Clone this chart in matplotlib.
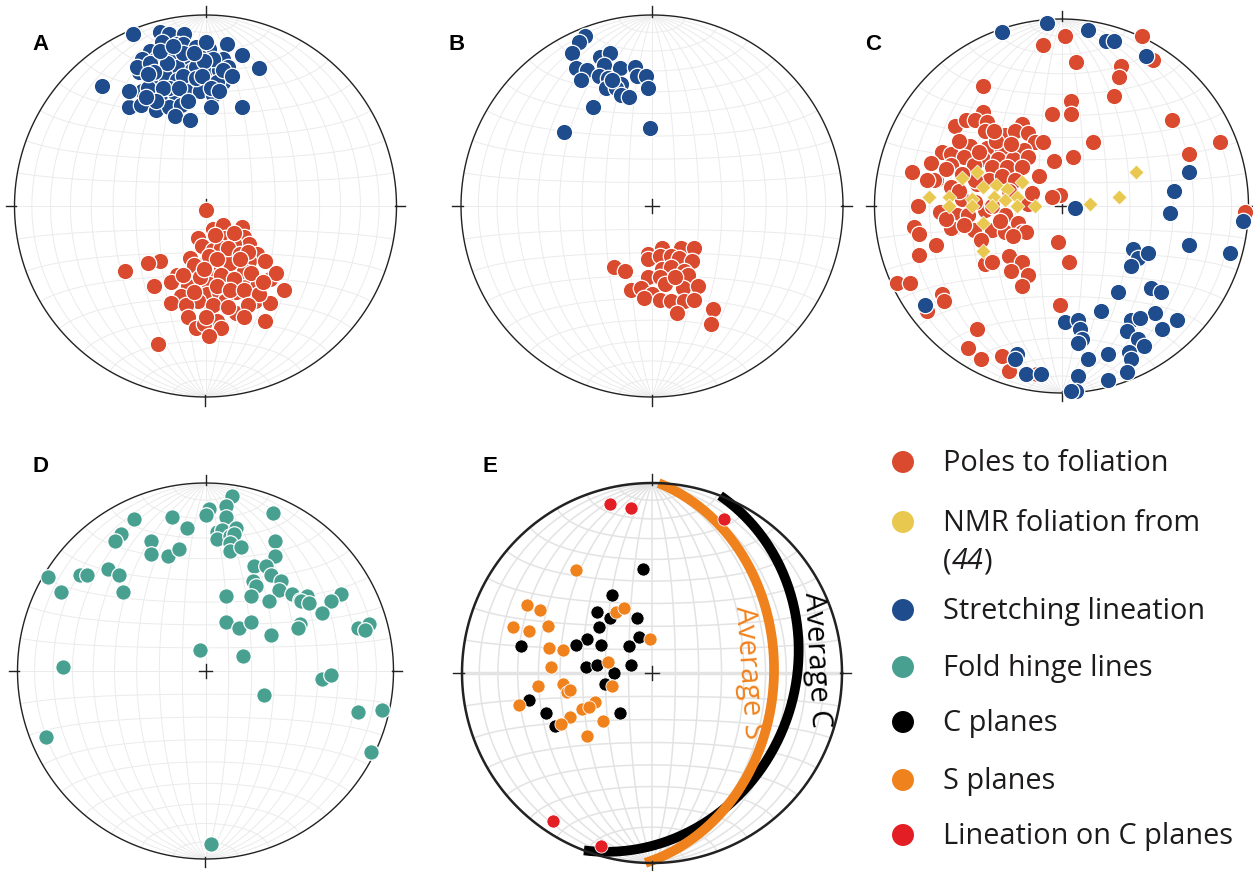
import numpy as np
import matplotlib
matplotlib.use("Agg")
import matplotlib.pyplot as plt
from matplotlib import font_manager

plt.rcParams['font.family'] = ['Open Sans', 'DejaVu Sans']

# pick an installed italic face for the "(44)" reference
italic_fam = 'DejaVu Sans'
have = {(f.name, f.style) for f in font_manager.fontManager.ttflist}
for fam in ['Open Sans', 'Lato', 'Noto Sans', 'Roboto', 'Liberation Sans', 'DejaVu Sans']:
    if (fam, 'italic') in have or (fam, 'oblique') in have:
        italic_fam = fam
        break

W, H = 1253, 871

# colours of the data sets
c_pole = '#d94a2f'
c_nmr = '#e9c850'
c_lin = '#1f4c8c'
c_fold = '#48a091'
c_cpl = '#000000'
c_spl = '#f0821e'
c_linc = '#e31e24'

# ---- data, projected net coordinates (east, north), unit = net radius ----
a_lin = np.array([
    [-0.38, 0.90], [-0.24, 0.91], [-0.19, 0.90], [-0.11, 0.90], [-0.23, 0.86], [-0.15, 0.85],
    [-0.12, 0.85], [0.11, 0.85], [-0.05, 0.83], [0.02, 0.82], [0.19, 0.79], [-0.29, 0.81],
    [-0.33, 0.77], [-0.26, 0.77], [-0.18, 0.79], [-0.10, 0.76], [-0.03, 0.78], [0.09, 0.77],
    [0.12, 0.73], [0.28, 0.72], [-0.35, 0.70], [-0.23, 0.72], [-0.15, 0.73], [-0.07, 0.71],
    [0.00, 0.71], [0.07, 0.71], [0.09, 0.65], [-0.54, 0.63], [-0.28, 0.65], [-0.21, 0.68],
    [-0.15, 0.66], [-0.08, 0.64], [0.00, 0.65], [0.06, 0.65], [-0.33, 0.60], [-0.24, 0.58],
    [-0.16, 0.59], [-0.10, 0.60], [-0.03, 0.60], [0.04, 0.58], [-0.40, 0.52], [-0.34, 0.53],
    [-0.26, 0.50], [-0.19, 0.52], [-0.13, 0.53], [0.03, 0.52], [0.19, 0.52], [-0.16, 0.47],
    [-0.08, 0.45], [-0.36, 0.73], [-0.29, 0.75], [-0.20, 0.75], [-0.12, 0.80], [-0.05, 0.73],
    [0.04, 0.77], [-0.27, 0.70], [-0.19, 0.62], [-0.12, 0.68], [-0.05, 0.67], [-0.30, 0.62],
    [-0.01, 0.76], [0.09, 0.71], [-0.24, 0.81], [-0.30, 0.69], [-0.22, 0.62], [-0.14, 0.62],
    [-0.02, 0.68], [0.03, 0.62], [-0.26, 0.55], [-0.09, 0.55], [-0.06, 0.80], [0.00, 0.86],
    [-0.31, 0.57], [0.07, 0.60], [-0.17, 0.84], [0.14, 0.68], [-0.40, 0.60],
])
a_pole = np.array([
    [0.00, -0.02], [0.04, -0.12], [0.09, -0.10], [0.19, -0.11], [-0.04, -0.17], [0.10, -0.17],
    [0.20, -0.16], [-0.02, -0.21], [0.04, -0.23], [0.13, -0.25], [0.23, -0.20], [0.27, -0.25],
    [-0.08, -0.27], [-0.24, -0.29], [-0.30, -0.30], [-0.42, -0.34], [0.01, -0.29], [0.16, -0.31],
    [0.23, -0.29], [0.31, -0.29], [-0.06, -0.31], [-0.15, -0.36], [0.04, -0.35], [0.11, -0.34],
    [0.34, -0.38], [0.37, -0.35], [-0.18, -0.40], [-0.27, -0.42], [-0.05, -0.40], [0.02, -0.41],
    [0.11, -0.41], [0.21, -0.39], [0.27, -0.42], [-0.09, -0.42], [0.41, -0.44], [-0.13, -0.47],
    [0.01, -0.46], [0.07, -0.45], [0.16, -0.45], [-0.04, -0.50], [-0.18, -0.51], [-0.10, -0.52],
    [0.03, -0.55], [0.10, -0.50], [0.26, -0.50], [0.34, -0.51], [0.16, -0.56], [-0.09, -0.58],
    [0.06, -0.60], [0.31, -0.60], [-0.05, -0.64], [-0.01, -0.62], [0.08, -0.64], [0.02, -0.68],
    [-0.25, -0.72], [0.08, -0.32], [-0.03, -0.37], [0.20, -0.34], [0.13, -0.30], [0.08, -0.22],
    [0.15, -0.20], [0.05, -0.15], [0.15, -0.14], [0.12, -0.22], [0.18, -0.25], [0.02, -0.26],
    [0.22, -0.24], [0.06, -0.28], [0.18, -0.28], [0.08, -0.36], [0.15, -0.38], [0.24, -0.35],
    [-0.01, -0.33], [0.06, -0.42], [0.13, -0.44], [0.20, -0.44], [0.28, -0.46], [-0.06, -0.45],
    [0.04, -0.52], [0.12, -0.53], [0.22, -0.52], [-0.12, -0.36], [0.30, -0.40], [0.00, -0.58],
    [0.20, -0.58],
])
b_lin = np.array([
    [-0.35, 0.89], [-0.38, 0.86], [-0.42, 0.80], [-0.27, 0.78], [-0.22, 0.80], [-0.25, 0.74],
    [-0.40, 0.72], [-0.34, 0.71], [-0.17, 0.72], [-0.09, 0.73], [-0.28, 0.68], [-0.23, 0.67],
    [-0.37, 0.66], [-0.16, 0.64], [-0.08, 0.68], [-0.03, 0.68], [-0.24, 0.62], [-0.19, 0.62],
    [-0.02, 0.62], [-0.16, 0.58], [-0.12, 0.57], [-0.31, 0.52], [-0.01, 0.41], [-0.46, 0.39],
    [-0.21, 0.66],
])
b_pole = np.array([
    [-0.02, -0.25], [0.05, -0.22], [0.15, -0.22], [0.22, -0.22], [-0.02, -0.28], [0.04, -0.26],
    [0.10, -0.26], [0.14, -0.27], [0.21, -0.29], [-0.20, -0.32], [-0.14, -0.34], [0.05, -0.33],
    [0.10, -0.32], [0.17, -0.34], [-0.02, -0.37], [0.04, -0.37], [0.19, -0.36], [0.07, -0.41],
    [0.16, -0.43], [0.24, -0.42], [-0.11, -0.44], [-0.06, -0.43], [0.00, -0.46], [-0.04, -0.48],
    [0.04, -0.49], [0.10, -0.50], [0.17, -0.50], [0.22, -0.49], [0.13, -0.56], [0.32, -0.54],
    [0.31, -0.62], [0.12, -0.37],
])
c_pole_pts = np.array([
    [0.02, 0.91], [-0.10, 0.86], [0.43, 0.91], [0.49, 0.78], [0.08, 0.77], [0.32, 0.75],
    [0.31, 0.69], [-0.42, 0.64], [0.28, 0.59], [0.05, 0.56], [0.05, 0.49], [-0.05, 0.49],
    [0.59, 0.46], [0.85, 0.34], [0.17, 0.34], [0.68, 0.28], [0.06, 0.26], [-0.04, 0.24],
    [-0.80, 0.18], [-0.01, 0.06], [-0.05, 0.05], [0.98, -0.03], [-0.02, -0.19], [0.04, -0.30],
    [-0.88, -0.41], [-0.81, -0.41], [-0.64, -0.47], [-0.63, -0.51], [-0.72, -0.56], [-0.01, -0.53],
    [-0.45, -0.66], [-0.50, -0.76], [-0.43, -0.82], [-0.32, -0.80], [-0.28, -0.88], [-0.13, -0.90],
    [-0.42, 0.50], [-0.57, 0.43], [-0.51, 0.46], [-0.46, 0.46], [-0.40, 0.45], [-0.41, 0.40],
    [-0.21, 0.44], [-0.30, 0.38], [-0.25, 0.40], [-0.18, 0.39], [-0.14, 0.34], [-0.10, 0.34],
    [-0.49, 0.32], [-0.40, 0.31], [-0.32, 0.30], [-0.20, 0.30], [-0.64, 0.29], [-0.59, 0.28],
    [-0.70, 0.23], [-0.52, 0.26], [-0.42, 0.25], [-0.34, 0.25], [-0.26, 0.25], [-0.18, 0.26],
    [-0.59, 0.22], [-0.47, 0.22], [-0.37, 0.21], [-0.29, 0.21], [-0.21, 0.21], [-0.67, 0.14],
    [-0.12, 0.16], [-0.59, 0.10], [-0.45, 0.12], [-0.39, 0.14], [-0.68, 0.14], [-0.72, 0.14],
    [-0.77, 0.00], [-0.65, -0.03], [-0.56, -0.05], [-0.50, -0.05], [-0.41, -0.02], [-0.30, -0.05],
    [-0.18, 0.01], [-0.79, -0.11], [-0.76, -0.15], [-0.58, -0.12], [-0.47, -0.13], [-0.37, -0.13],
    [-0.30, -0.14], [-0.23, -0.09], [-0.21, -0.14], [-0.19, -0.14], [-0.26, -0.16], [-0.67, -0.21],
    [-0.76, -0.26], [-0.28, -0.27], [-0.21, -0.30], [-0.40, -0.30], [-0.46, 0.14], [-0.53, 0.17],
    [-0.32, 0.16], [-0.25, 0.14], [-0.53, 0.04], [-0.46, 0.02], [-0.37, 0.00], [-0.41, -0.31],
    [-0.27, -0.35], [-0.18, -0.37], [-0.21, -0.43], [-0.37, -0.30], [-0.59, -0.12],
    [-0.55, 0.35], [-0.35, 0.35], [-0.27, 0.33], [-0.62, 0.20], [-0.55, 0.08], [-0.62, -0.07],
    [-0.33, -0.08], [-0.43, -0.18], [-0.52, -0.10], [-0.28, 0.08], [-0.16, 0.07], [-0.44, 0.29],
    [-0.36, 0.40],
])
c_nmr_pts = np.array([
    [-0.71, 0.05], [-0.53, 0.15], [-0.45, 0.18], [-0.42, 0.10], [-0.35, 0.11], [-0.29, 0.09],
    [-0.21, 0.13], [-0.60, 0.05], [-0.60, 0.00], [-0.48, 0.04], [-0.48, 0.00], [-0.36, 0.05],
    [-0.30, 0.03], [-0.24, 0.05], [-0.37, 0.00], [-0.24, 0.00], [-0.14, 0.00], [-0.42, -0.09],
    [-0.42, -0.24], [0.15, 0.01], [0.31, 0.05], [0.40, 0.18],
])
c_lin_pts = np.array([
    [-0.32, 0.93], [-0.08, 0.98], [0.14, 0.94], [0.24, 0.88], [0.28, 0.88], [0.45, 0.80],
    [0.68, 0.18], [0.60, 0.08], [0.07, -0.01], [0.58, -0.04], [0.97, -0.08], [0.68, -0.21],
    [0.90, -0.25], [0.38, -0.23], [0.41, -0.28], [0.46, -0.25], [0.37, -0.32], [0.30, -0.46],
    [0.48, -0.44], [0.53, -0.46], [0.21, -0.56], [0.50, -0.57], [0.62, -0.61], [0.37, -0.61],
    [0.42, -0.60], [0.02, -0.62], [0.09, -0.61], [0.10, -0.66], [0.54, -0.66], [0.35, -0.67],
    [0.11, -0.71], [0.09, -0.73], [0.41, -0.71], [0.44, -0.75], [0.25, -0.79], [0.36, -0.78],
    [0.37, -0.82], [0.14, -0.82], [-0.24, -0.79], [-0.25, -0.82], [-0.19, -0.90], [-0.11, -0.90],
    [0.09, -0.91], [0.25, -0.93], [0.35, -0.89], [0.08, -0.99], [0.05, -0.99], [-0.73, -0.53],
])
d_fold = np.array([
    [0.14, 0.93], [0.11, 0.88], [0.02, 0.86], [0.00, 0.83], [0.36, 0.84], [-0.38, 0.81],
    [-0.18, 0.82], [-0.10, 0.76], [0.11, 0.82], [-0.45, 0.73], [-0.48, 0.69], [-0.29, 0.69],
    [-0.29, 0.62], [-0.20, 0.61], [-0.14, 0.65], [0.06, 0.74], [0.09, 0.75], [0.16, 0.76],
    [0.06, 0.70], [0.13, 0.72], [0.15, 0.73], [0.13, 0.68], [0.13, 0.64], [0.19, 0.66],
    [0.37, 0.69], [0.37, 0.61], [0.26, 0.56], [0.32, 0.56], [0.35, 0.51], [0.25, 0.48],
    [0.27, 0.45], [0.40, 0.48], [0.39, 0.43], [0.34, 0.37], [0.11, 0.40], [0.24, 0.40],
    [0.46, 0.41], [0.50, 0.38], [0.54, 0.40], [0.51, 0.37], [0.55, 0.36], [0.72, 0.41],
    [0.67, 0.37], [0.62, 0.31], [-0.84, 0.50], [-0.67, 0.51], [-0.63, 0.51], [-0.52, 0.54],
    [-0.46, 0.51], [-0.77, 0.42], [-0.44, 0.42], [0.11, 0.26], [0.18, 0.23], [0.24, 0.26],
    [0.50, 0.25], [0.49, 0.23], [0.35, 0.19], [0.81, 0.23], [0.87, 0.25], [0.85, 0.22],
    [-0.03, 0.11], [0.20, 0.08], [-0.76, 0.02], [0.62, -0.04], [0.67, -0.02], [0.31, -0.13],
    [0.81, -0.22], [0.94, -0.21], [-0.85, -0.35], [0.88, -0.43], [0.03, -0.92],
])
e_cpl = np.array([
    [-0.05, 0.55], [-0.21, 0.41], [-0.29, 0.32], [-0.22, 0.29], [-0.08, 0.29], [-0.28, 0.24],
    [-0.34, 0.18], [-0.40, 0.15], [-0.27, 0.15], [-0.07, 0.19], [-0.12, 0.14], [-0.69, 0.14],
    [-0.35, 0.03], [-0.29, 0.04], [-0.20, 0.00], [-0.11, 0.04], [-0.25, -0.06], [-0.65, -0.14],
    [-0.56, -0.21], [-0.17, -0.21], [-0.51, -0.28],
])
e_spl = np.array([
    [-0.40, 0.54], [-0.66, 0.36], [-0.59, 0.33], [-0.73, 0.24], [-0.65, 0.22], [-0.55, 0.25],
    [-0.19, 0.32], [-0.15, 0.34], [-0.01, 0.18], [-0.54, 0.13], [-0.47, 0.12], [-0.53, 0.03],
    [-0.23, 0.06], [-0.60, -0.07], [-0.47, -0.06], [-0.45, -0.10], [-0.43, -0.09], [-0.21, -0.07],
    [-0.70, -0.17], [-0.30, -0.15], [-0.37, -0.19], [-0.33, -0.18], [-0.43, -0.23], [-0.26, -0.25],
    [-0.48, -0.27], [-0.34, -0.33],
])
e_linc = np.array([[-0.22, 0.89], [-0.11, 0.87], [0.38, 0.81], [-0.52, -0.78], [-0.27, -0.91]])

# average planes in E (strike, dip, right-hand rule)
avg_s = (2, 36)
avg_c = (21, 26)

# legend: text pieces per line, (text, italic)
legend_labels = [
    [[('Poles to foliation', False)]],
    [[('NMR foliation from', False)], [('(', False), ('44', True), (')', False)]],
    [[('Stretching lineation', False)]],
    [[('Fold hinge lines', False)]],
    [[('C planes', False)]],
    [[('S planes', False)]],
    [[('Lineation on C planes', False)]],
]
legend_colors = [c_pole, c_nmr, c_lin, c_fold, c_cpl, c_spl, c_linc]


def proj_lonlat(lon, lat):
    lon, lat = np.radians(lon), np.radians(lat)
    k = np.sqrt(1.0 / (1.0 + np.cos(lat) * np.cos(lon)))
    return k * np.cos(lat) * np.sin(lon), k * np.sin(lat)


def proj_line(trend, plunge):
    r = np.sqrt(2) * np.sin(np.radians(90 - plunge) / 2)
    t = np.radians(trend)
    return r * np.sin(t), r * np.cos(t)


def plane_xy(strike, dip):
    s, d = np.radians(strike), np.radians(dip)
    u = np.array([np.sin(s), np.cos(s), 0.0])
    v = np.array([np.cos(d) * np.sin(s + np.pi / 2), np.cos(d) * np.cos(s + np.pi / 2), np.sin(d)])
    a = np.linspace(0, np.pi, 200)
    L = np.outer(np.cos(a), u) + np.outer(np.sin(a), v)
    plunge = np.degrees(np.arcsin(np.clip(L[:, 2], -1, 1)))
    trend = np.degrees(np.arctan2(L[:, 0], L[:, 1]))
    return proj_line(trend, plunge)


def net_axes(fig, cx, cy, r, grid_c='#ebebeb', grid_lw=0.7, rim_lw=1.0, eq_lw=None):
    ax = fig.add_axes([(cx - 1.1 * r) / W, 1 - (cy + 1.1 * r) / H, 2.2 * r / W, 2.2 * r / H])
    ax.set_xlim(-1.1, 1.1)
    ax.set_ylim(-1.1, 1.1)
    ax.axis('off')
    lat = np.linspace(-90, 90, 181)
    for lon in range(-80, 90, 10):
        x, y = proj_lonlat(np.full_like(lat, lon), lat)
        ax.plot(x, y, color=grid_c, lw=grid_lw, zorder=1)
    lon = np.linspace(-90, 90, 181)
    for la in range(-80, 90, 10):
        x, y = proj_lonlat(lon, np.full_like(lon, la))
        ax.plot(x, y, color=grid_c, lw=eq_lw if (la == 0 and eq_lw) else grid_lw, zorder=1)
    t = np.linspace(0, 2 * np.pi, 400)
    ax.plot(np.cos(t), np.sin(t), color='#222222', lw=rim_lw, zorder=3)
    for ang in (0, 90, 180, 270):
        a = np.radians(ang)
        ax.plot([0.99 * np.cos(a), 1.045 * np.cos(a)], [0.99 * np.sin(a), 1.045 * np.sin(a)],
                color='#222222', lw=1.0, zorder=3)
    ax.plot([-0.035, 0.035], [0, 0], color='#222222', lw=1.0, zorder=3)
    ax.plot([0, 0], [-0.035, 0.035], color='#222222', lw=1.0, zorder=3)
    return ax


def dots(ax, pts, color, s=140, marker='o', lw=0.9):
    ax.scatter(pts[:, 0], pts[:, 1], s=s, c=color, marker=marker, edgecolors='white',
               linewidths=lw, zorder=4, clip_on=False)


fig = plt.figure(figsize=(W / 100, H / 100), dpi=100)

axA = net_axes(fig, 205.5, 206, 191)
dots(axA, a_lin, c_lin)
dots(axA, a_pole, c_pole)

axB = net_axes(fig, 652, 206, 191)
dots(axB, b_lin, c_lin)
dots(axB, b_pole, c_pole)

axC = net_axes(fig, 1061.5, 206, 187)
dots(axC, c_pole_pts, c_pole)
dots(axC, c_lin_pts, c_lin)
dots(axC, c_nmr_pts, c_nmr, s=58, marker='D', lw=0.5)

axD = net_axes(fig, 205.5, 671, 188)
dots(axD, d_fold, c_fold, s=125)

axE = net_axes(fig, 652, 673, 190, grid_c='#e3e3e3', grid_lw=1.1, rim_lw=1.8, eq_lw=2.5)
xs, ys = plane_xy(*avg_c)
axE.plot(xs, ys, color='black', lw=7, solid_capstyle='butt', zorder=2)
xs, ys = plane_xy(*avg_s)
axE.plot(xs, ys, color=c_spl, lw=7, solid_capstyle='butt', zorder=2)
dots(axE, e_cpl, c_cpl, s=90, lw=0.6)
dots(axE, e_spl, c_spl, s=90, lw=0.6)
dots(axE, e_linc, c_linc, s=90, lw=0.6)
axE.text(0.505, 0.0, 'Average S', color=c_spl, fontsize=21, rotation=-86,
         ha='center', va='center', rotation_mode='anchor', zorder=5)
axE.text(0.865, 0.07, 'Average C', color='black', fontsize=21, rotation=-87,
         ha='center', va='center', rotation_mode='anchor', zorder=5)

# panel letters
for lab, px, py in [('A', 32, 45), ('B', 448, 45), ('C', 865, 45), ('D', 33, 466), ('E', 483, 466)]:
    fig.text(px / W, 1 - py / H, lab, fontsize=16, fontweight='bold', family='Liberation Sans',
             ha='left', va='center')

# legend
leg_ax = fig.add_axes([0, 0, 1, 1])
leg_ax.set_xlim(0, W)
leg_ax.set_ylim(H, 0)
leg_ax.axis('off')
renderer = fig.canvas.get_renderer()
rows = [462, 522, 610, 667, 722, 780, 835]
for lab, col, yy in zip(legend_labels, legend_colors, rows):
    leg_ax.scatter([903], [yy], s=250, c=col, edgecolors='none')
    for k, line in enumerate(lab):
        x = 943
        for piece, ital in line:
            kw = dict(fontsize=20.8, color='#1e1b1c', ha='left', va='baseline')
            if ital:
                kw.update(fontstyle='italic', family=[italic_fam, 'DejaVu Sans'])
            t = leg_ax.text(x, yy + 38 * k + 9, piece, **kw)
            x += t.get_window_extent(renderer).width

fig.savefig('out.png', dpi=100)
